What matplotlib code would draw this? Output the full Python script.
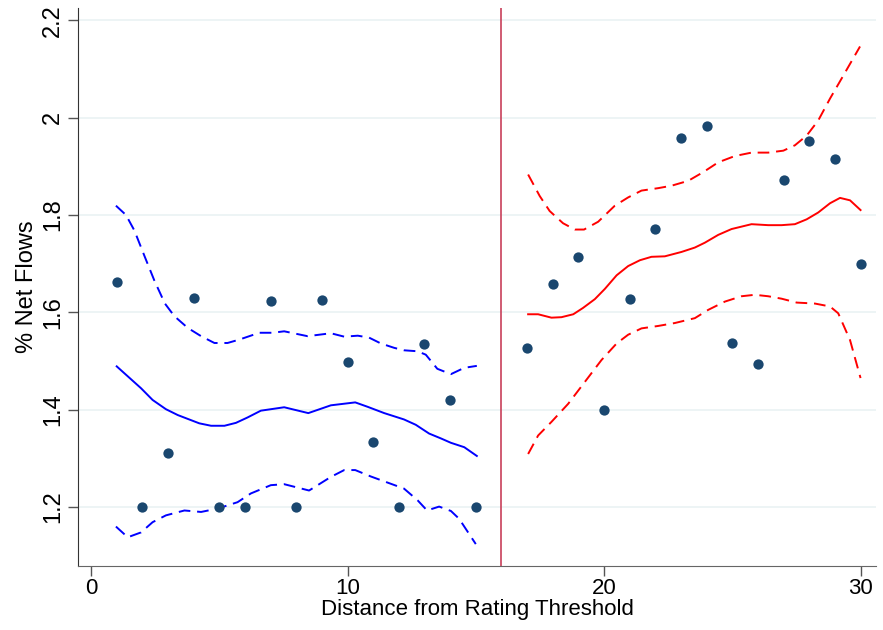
import matplotlib
matplotlib.use("Agg")
import matplotlib.pyplot as plt

# scatter points (bin means)
pts_x = [1, 2, 3, 4, 5, 6, 7, 8, 9, 10, 11, 12, 13, 14, 15,
         17, 18, 19, 20, 21, 22, 23, 24, 25, 26, 27, 28, 29, 30]
pts_y = [1.662, 1.200, 1.311, 1.629, 1.200, 1.200, 1.623, 1.200, 1.625, 1.497,
         1.334, 1.200, 1.534, 1.419, 1.200,
         1.527, 1.658, 1.713, 1.399, 1.628, 1.771, 1.957, 1.983, 1.536, 1.494,
         1.872, 1.951, 1.915, 1.700]

# left side fit (below threshold)
left_x = [1.0, 1.95, 2.4, 2.92, 3.38, 4.22, 4.68, 5.2, 5.65, 6.1, 6.62, 7.53,
          8.47, 9.35, 10.3, 10.78, 11.43, 12.2, 12.66, 13.18, 13.64, 14.03, 14.55, 15.04]
left_fit = [1.489, 1.444, 1.420, 1.401, 1.389, 1.372, 1.367, 1.367, 1.373, 1.384,
            1.398, 1.405, 1.393, 1.409, 1.415, 1.406, 1.393, 1.380, 1.369, 1.351,
            1.341, 1.332, 1.323, 1.305]

left_hi_x = [0.97, 1.36, 1.69, 2.08, 2.47, 2.88, 3.25, 3.77, 4.29, 4.81, 5.32, 5.78,
             6.56, 7.08, 7.53, 8.44, 9.35, 9.87, 10.4, 10.84, 11.3, 11.82, 12.2,
             12.73, 13.05, 13.5, 14.03, 14.55, 15.04]
left_hi = [1.819, 1.800, 1.768, 1.716, 1.665, 1.618, 1.592, 1.568, 1.551, 1.537,
           1.537, 1.544, 1.558, 1.558, 1.561, 1.551, 1.557, 1.550, 1.552, 1.548,
           1.536, 1.527, 1.522, 1.520, 1.513, 1.484, 1.473, 1.486, 1.490]

left_lo_x = [0.97, 1.43, 1.95, 2.4, 2.92, 3.64, 4.29, 4.94, 5.71, 6.23, 7.01, 7.53,
             8.5, 9.35, 9.87, 10.3, 10.9, 12.2, 12.73, 13.1, 13.57, 14.03, 14.35, 15.0]
left_lo = [1.160, 1.138, 1.148, 1.169, 1.183, 1.193, 1.190, 1.197, 1.210, 1.228,
           1.245, 1.247, 1.234, 1.262, 1.276, 1.276, 1.263, 1.238, 1.214, 1.193,
           1.201, 1.192, 1.176, 1.124]

# right side fit (above threshold)
right_x = [17.04, 17.43, 17.95, 18.34, 18.8, 19.18, 19.64, 20.03, 20.49, 20.94,
           21.4, 21.85, 22.37, 23.02, 23.54, 23.93, 24.45, 24.97, 25.75, 26.4,
           26.92, 27.44, 27.9, 28.35, 28.81, 29.2, 29.59, 30.0]
right_fit = [1.596, 1.596, 1.589, 1.590, 1.596, 1.609, 1.627, 1.648, 1.676, 1.695,
             1.707, 1.714, 1.715, 1.724, 1.733, 1.743, 1.759, 1.771, 1.781, 1.779,
             1.779, 1.781, 1.791, 1.805, 1.824, 1.835, 1.830, 1.810]

right_hi_x = [17.04, 17.49, 17.88, 18.4, 18.86, 19.22, 19.77, 20.42, 20.94, 21.46,
              22.11, 22.63, 23.28, 23.87, 24.45, 25.1, 25.75, 26.4, 26.99, 27.44,
              27.9, 28.35, 28.81, 29.26, 29.98]
right_hi = [1.883, 1.839, 1.808, 1.783, 1.770, 1.770, 1.786, 1.819, 1.836, 1.850,
            1.855, 1.860, 1.870, 1.888, 1.908, 1.921, 1.928, 1.928, 1.932, 1.943,
            1.963, 1.994, 2.039, 2.080, 2.146]

right_lo_x = [17.04, 17.43, 17.95, 18.6, 19.25, 19.9, 20.49, 20.94, 21.46, 22.11,
              22.76, 23.54, 24.06, 24.71, 25.36, 25.88, 26.4, 26.92, 27.51, 28.22,
              28.81, 29.13, 29.59, 30.0]
right_lo = [1.309, 1.347, 1.375, 1.412, 1.457, 1.502, 1.536, 1.554, 1.567, 1.572,
            1.578, 1.588, 1.605, 1.622, 1.633, 1.636, 1.633, 1.628, 1.620, 1.618,
            1.612, 1.598, 1.543, 1.465]

threshold = 16
y_ticks = [1.2, 1.4, 1.6, 1.8, 2.0, 2.2]
y_labels = ["1.2", "1.4", "1.6", "1.8", "2", "2.2"]
x_ticks = [0, 10, 20, 30]

plt.rcParams['font.family'] = ['Liberation Sans', 'DejaVu Sans']

fig = plt.figure(figsize=(8.83, 6.30), dpi=100)
ax = fig.add_axes([0.0883, 0.1016, 0.9037, 0.8857])

for y in y_ticks:
    ax.axhline(y, color='#eaf2f3', lw=1.2, zorder=0)

dash = (0, (6, 3.5))
ax.plot(left_x, left_fit, color='blue', lw=1.4)
ax.plot(left_hi_x, left_hi, color='blue', lw=1.4, linestyle=dash)
ax.plot(left_lo_x, left_lo, color='blue', lw=1.4, linestyle=dash)
ax.plot(right_x, right_fit, color='red', lw=1.4)
ax.plot(right_hi_x, right_hi, color='red', lw=1.4, linestyle=dash)
ax.plot(right_lo_x, right_lo, color='red', lw=1.4, linestyle=dash)

ax.scatter(pts_x, pts_y, s=55, color='#1a476f', zorder=3, linewidths=0)
ax.axvline(threshold, color='#c8405a', lw=1.2)

ax.set_xlim(-0.51, 30.6)
ax.set_ylim(1.079, 2.225)
ax.set_xticks(x_ticks)
ax.set_yticks(y_ticks)
ax.set_yticklabels(y_labels, rotation=90, va='center')
ax.tick_params(direction='out', length=7, width=1, color='#555555',
               labelsize=17, pad=3)
ax.tick_params(axis='x', labelsize=16, pad=2)
ax.spines['top'].set_visible(False)
ax.spines['right'].set_visible(False)
ax.spines['left'].set_color('#333333')
ax.spines['bottom'].set_color('#666666')
ax.set_xlabel("Distance from Rating Threshold", fontsize=16, labelpad=0)
ax.set_ylabel("% Net Flows", fontsize=17, labelpad=3)

fig.savefig("out.png", dpi=100)
